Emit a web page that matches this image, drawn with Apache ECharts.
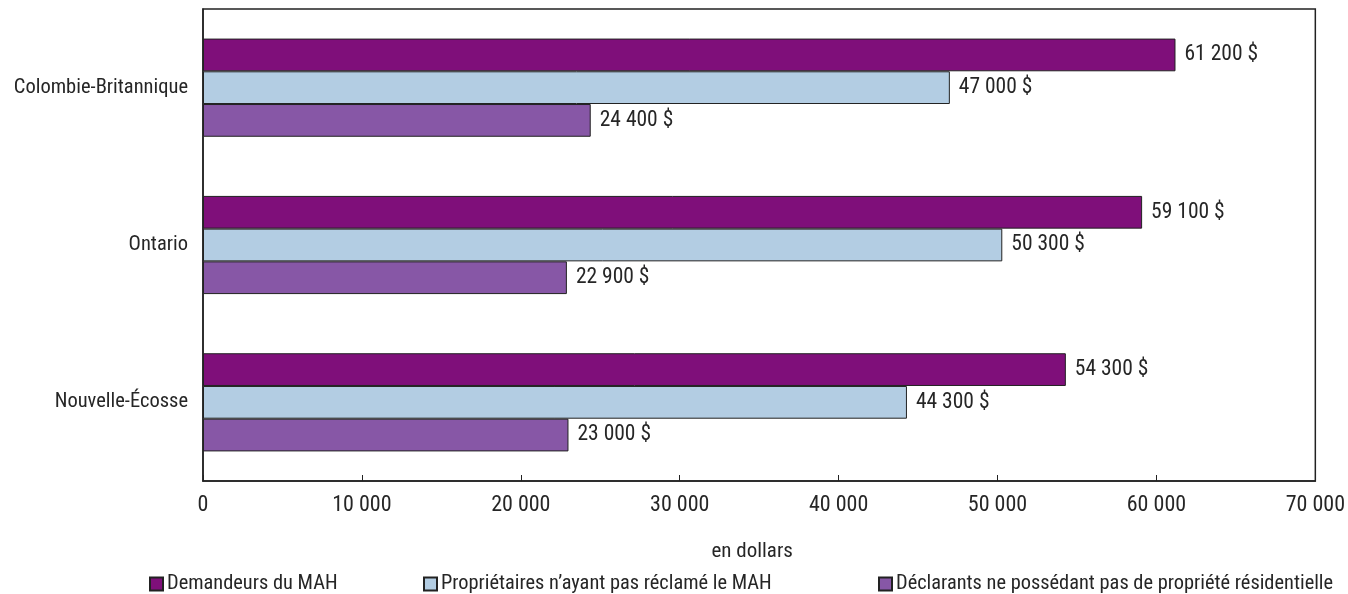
<!DOCTYPE html>
<html><head><meta charset="utf-8">
<script src="https://cdn.jsdelivr.net/npm/echarts@6/dist/echarts.min.js"></script>
<style>html,body{margin:0;padding:0;background:#fff}#c{width:1348px;height:594px}</style>
</head><body><div id="c"></div>
<script>
const categories = ['Colombie-Britannique', 'Ontario', 'Nouvelle-Écosse'];
const seriesNames = ['Demandeurs du MAH', 'Propriétaires n’ayant pas réclamé le MAH', 'Déclarants ne possédant pas de propriété résidentielle'];
const demandeurs = [61200, 59100, 54300];
const proprietaires = [47000, 50300, 44300];
const declarants = [24400, 22900, 23000];
const xTicks = [0, 10000, 20000, 30000, 40000, 50000, 60000, 70000];
const colors = ['#7f0f7a', '#b3cde3', '#8757a6'];

const FONT = '"Roboto Condensed", "DejaVu Sans Condensed", "Liberation Sans Narrow", sans-serif';
const TXT = '#262626';
function fmt(v){ return String(v).replace(/\B(?=(\d{3})+(?!\d))/g, ' '); }

const values = [demandeurs, proprietaires, declarants];
const chart = echarts.init(document.getElementById('c'), null, {renderer:'canvas'});
chart.setOption({
  animation:false,
  textStyle:{fontFamily:FONT},
  grid:{left:203, top:9, width:1114, height:472, show:true, borderColor:'#222', borderWidth:1.5, containLabel:false},
  xAxis:{type:'value', min:xTicks[0], max:xTicks[xTicks.length-1], interval:10000,
    axisLine:{show:true, lineStyle:{color:'#222', width:1.5}},
    axisTick:{show:true, inside:true, length:6, lineStyle:{color:'#222'}},
    splitLine:{show:false},
    axisLabel:{fontFamily:FONT, fontSize:22, color:TXT, margin:13, formatter:fmt},
    name:'en dollars', nameLocation:'middle', nameGap:60,
    nameTextStyle:{fontFamily:FONT, fontSize:21, color:TXT, padding:[0,14,0,0]}},
  yAxis:{type:'category', data:categories, inverse:true,
    axisLine:{show:true, lineStyle:{color:'#222', width:1.5}},
    axisTick:{show:false},
    axisLabel:{fontFamily:FONT, fontSize:20.5, color:TXT, margin:15}},
  legend:[0,1,2].map((i)=>({
    data:[seriesNames[i]], left:[149,423,878][i], top:574, itemWidth:13, itemHeight:13, itemGap:5,
    padding:0, icon:'rect', textStyle:{fontFamily:FONT, fontSize:20.4, color:TXT, padding:[0,0,0,-1]}
  })),
  series: values.map((d,i)=>({
    name:seriesNames[i], type:'bar', data:d, barGap:'0%', barCategoryGap:'37.6%',
    itemStyle:{color:colors[i], borderColor:'#222', borderWidth:1},
    label:{show:true, position:'right', distance:9, fontFamily:FONT, fontSize:21.5, color:TXT,
      formatter:(p)=>fmt(p.value)+' $'}
  }))
});
</script></body></html>
